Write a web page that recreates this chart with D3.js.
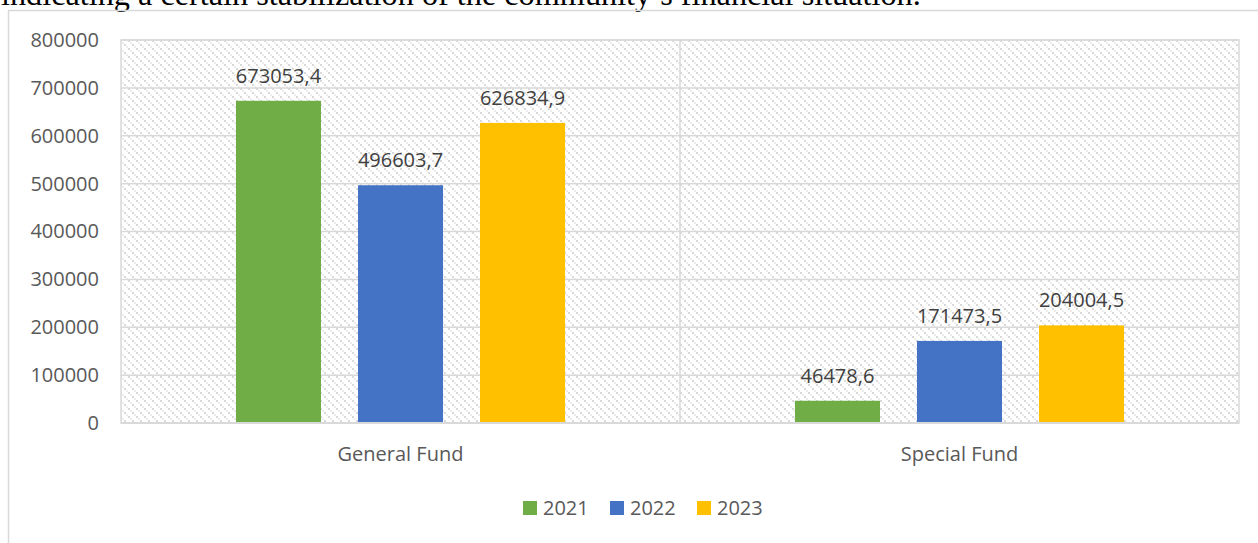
<!DOCTYPE html>
<html>
<head>
<meta charset="utf-8">
<script src="https://cdn.jsdelivr.net/npm/d3@7"></script>
<style>
  html, body { margin: 0; padding: 0; background: #fff; overflow: hidden; }
  svg { display: block; }
</style>
</head>
<body>
<svg id="chart" width="1258" height="543"></svg>
<script>
// ---- data ----
const categories = ["General Fund", "Special Fund"];
const seriesNames = ["2021", "2022", "2023"];
const values2021 = [673053.4, 46478.6];
const values2022 = [496603.7, 171473.5];
const values2023 = [626834.9, 204004.5];
const yTicks = [0, 100000, 200000, 300000, 400000, 500000, 600000, 700000, 800000];
const seriesColors = ["#70AD47", "#4472C4", "#FFC000"];
const headerText = "indicating a certain stabilization of the community’s financial situation.";

const seriesValues = [values2021, values2022, values2023];

const svg = d3.select("#chart");
const plot = { left: 121, right: 1239, top: 40, bottom: 423 };
const FONT = "'Open Sans', 'Noto Sans', sans-serif";
const FS = 20;

// pattern
const defs = svg.append("defs");
const pat = defs.append("pattern")
  .attr("id", "diag")
  .attr("patternUnits", "userSpaceOnUse")
  .attr("width", 8).attr("height", 8);
pat.append("rect").attr("width", 8).attr("height", 8).attr("fill", "#fff");
[[0,0,"#d9d9d9"],[4,4,"#d9d9d9"],[2,2,"#ededed"],[6,6,"#ededed"]].forEach(([x,y,c]) => {
  pat.append("rect").attr("x", x).attr("y", y).attr("width", 2).attr("height", 2).attr("fill", c);
});

// header text (partially cut off at top)
const header = svg.append("text")
  .attr("x", 1).attr("y", 5)
  .attr("font-family", "'Liberation Serif', 'Times New Roman', serif")
  .attr("font-size", 24)
  .attr("fill", "#000")
  .text(headerText);
const hl = header.node().getComputedTextLength();
header.attr("font-size", 24 * 920 / hl);

// outer chart frame
svg.append("rect")
  .attr("x", 8.5).attr("y", 10.5)
  .attr("width", 1300).attr("height", 600)
  .attr("fill", "none").attr("stroke", "#d9d9d9").attr("stroke-width", 1.5);

// scales
const x0 = d3.scaleBand().domain(categories).range([plot.left, plot.right]).paddingInner(0).paddingOuter(0);
const x1 = d3.scaleBand().domain(seriesNames).range([0, x0.bandwidth()]).paddingInner(0.303).paddingOuter(0.942);
const y = d3.scaleLinear().domain([0, 800000]).range([plot.bottom, plot.top]);

// plot background
svg.append("rect")
  .attr("x", plot.left).attr("y", plot.top)
  .attr("width", plot.right - plot.left).attr("height", plot.bottom - plot.top)
  .attr("fill", "url(#diag)")
  .attr("stroke", "#d9d9d9").attr("stroke-width", 1.5);

// gridlines
svg.append("g").selectAll("line").data(yTicks).join("line")
  .attr("x1", plot.left).attr("x2", plot.right)
  .attr("y1", d => y(d)).attr("y2", d => y(d))
  .attr("stroke", "#d9d9d9").attr("stroke-width", 1.5);

// vertical category separator
svg.append("line")
  .attr("x1", x0(categories[1])).attr("x2", x0(categories[1]))
  .attr("y1", plot.top).attr("y2", plot.bottom)
  .attr("stroke", "#d9d9d9").attr("stroke-width", 1.5);

// y axis labels
const yAxis = d3.axisLeft(y).tickValues(yTicks).tickSize(0).tickPadding(22).tickFormat(d => String(d));
const yg = svg.append("g").attr("transform", `translate(${plot.left},0)`).call(yAxis);
yg.select(".domain").remove();
yg.selectAll("text")
  .attr("font-family", FONT)
  .attr("font-size", FS)
  .attr("fill", "#595959");

// bars
const groups = svg.append("g").selectAll("g").data(categories).join("g")
  .attr("transform", d => `translate(${x0(d)},0)`);

groups.selectAll("rect")
  .data((c, ci) => seriesNames.map((s, si) => ({ s, si, v: seriesValues[si][ci] })))
  .join("rect")
  .attr("x", d => x1(d.s))
  .attr("width", x1.bandwidth())
  .attr("y", d => y(d.v))
  .attr("height", d => y(0) - y(d.v))
  .attr("fill", d => seriesColors[d.si]);

// data labels
const fmt = v => v.toFixed(1).replace(".", ",");
groups.selectAll("text")
  .data((c, ci) => seriesNames.map((s, si) => ({ s, si, v: seriesValues[si][ci] })))
  .join("text")
  .attr("x", d => x1(d.s) + x1.bandwidth() / 2)
  .attr("y", d => y(d.v) - 18)
  .attr("text-anchor", "middle")
  .attr("font-family", FONT)
  .attr("font-size", FS)
  .attr("fill", "#404040")
  .text(d => fmt(d.v));

// x axis (bottom line + labels)
svg.append("line")
  .attr("x1", plot.left).attr("x2", plot.right)
  .attr("y1", plot.bottom).attr("y2", plot.bottom)
  .attr("stroke", "#d9d9d9").attr("stroke-width", 2);

const xAxis = d3.axisBottom(x0).tickSize(0).tickPadding(24);
const xg = svg.append("g").attr("transform", `translate(0,${plot.bottom})`).call(xAxis);
xg.select(".domain").remove();
xg.selectAll("text")
  .attr("font-family", FONT)
  .attr("font-size", FS)
  .attr("fill", "#595959");

// legend
const legendX = [523, 610, 697];
const lg = svg.append("g").selectAll("g").data(seriesNames).join("g")
  .attr("transform", (d, i) => `translate(${legendX[i]},501)`);
lg.append("rect").attr("width", 14).attr("height", 14).attr("fill", (d, i) => seriesColors[i]);
lg.append("text")
  .attr("x", 20).attr("y", 7).attr("dy", "0.35em")
  .attr("font-family", FONT)
  .attr("font-size", FS)
  .attr("fill", "#595959")
  .text(d => d);
</script>
</body>
</html>
